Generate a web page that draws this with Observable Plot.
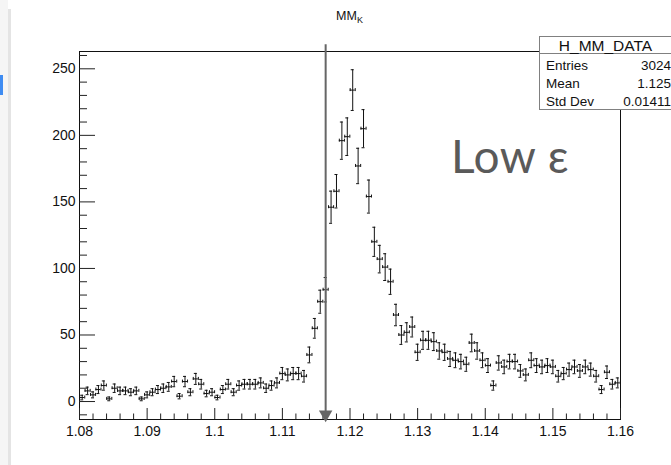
<!DOCTYPE html>
<html>
<head>
<meta charset="utf-8">
<script src="https://cdn.jsdelivr.net/npm/d3@7"></script>
<script src="https://cdn.jsdelivr.net/npm/@observablehq/plot@0.6"></script>
<style>
  html, body { margin: 0; padding: 0; background: #fff; overflow: hidden; }
  #wrap { position: relative; width: 671px; height: 465px; overflow: hidden; font-family: "Liberation Sans", Arial, Helvetica, sans-serif; }
  #chart { position: absolute; left: 0; top: 0; }
  .strip { position: absolute; left: 0; top: 0; width: 8px; height: 465px; background: #f5f5f5; }
  .stripline { position: absolute; left: 8px; top: 9px; width: 3px; height: 456px; background: #e4e4e4; }
  .blue { position: absolute; left: 0; top: 75px; width: 3px; height: 20px; background: #3f8cf2; }
  #title { position: absolute; left: 79px; width: 541px; top: 9px; text-align: center; font-size: 12.5px; color: #111; }
  #title sub { font-size: 9px; vertical-align: -3px; }
  #stats { position: absolute; left: 539px; top: 36px; width: 150px; height: 72px; border: 1px solid #808080; background: #fff; color: #111; }
  #stats .hdr { height: 16px; border-bottom: 1px solid #808080; font-size: 15.5px; line-height: 17px; width: 131px; text-align: center; }
  #stats .row { position: absolute; left: 6px; width: 125px; font-size: 13.5px; line-height: 18px; }
  #stats .row span { position: absolute; right: 0; }
  #lowe { position: absolute; left: 451px; top: 128px; font-family: Lato, "Open Sans", sans-serif; font-size: 46px; color: #5a5a5a; letter-spacing: 0.5px; }
</style>
</head>
<body>
<div id="wrap">
  <div class="strip"></div><div class="stripline"></div><div class="blue"></div>
  <div id="chart"></div>
  <div id="title">MM<sub>K</sub></div>
  <div id="stats">
    <div class="hdr">H_MM_DATA</div>
    <div class="row" style="top:20px">Entries<span>3024</span></div>
    <div class="row" style="top:38px">Mean<span>1.125</span></div>
    <div class="row" style="top:56px">Std Dev<span>0.01411</span></div>
  </div>
  <div id="lowe">Low ε</div>
</div>
<script>
// ---- data ----
const histName = "H_MM_DATA";
const xLow = 1.08;          // histogram lower edge
const binWidth = 0.0008;    // 100 bins from 1.08 to 1.16
const counts = [
  3, 8, 5, 9, 12, 2, 10, 8, 8, 7, 8, 2, 5, 7, 9, 10, 11,
  15, 4, 15, 7, 17, 13, 6, 7, 3, 9, 13, 7, 12, 13, 13, 13, 14,
  10, 12, 14, 21, 20, 21, 21, 19, 35, 55, 75, 84,
  146, 158, 196, 199, 234, 177, 205, 154, 120, 107, 101, 90,
  65, 50, 52, 56, 37, 46, 46, 45, 38, 37, 32, 31, 30, 28, 44, 38, 31, 27,
  12, 29, 26, 30, 30, 23, 20, 31, 27, 26, 27, 26, 19, 21, 24, 26, 23, 26, 24, 19, 9, 22, 13, 14
];
const arrowX = 1.1164;      // cut position marked by the arrow
const arrowTop = 268;

const xDomain = [1.08, 1.16];
const yDomain = [-13.5, 263];
const xTicks = [1.08, 1.09, 1.10, 1.11, 1.12, 1.13, 1.14, 1.15, 1.16];
const xTickLabels = ["1.08", "1.09", "1.1", "1.11", "1.12", "1.13", "1.14", "1.15", "1.16"];
const xMinorTicks = d3.range(0, 41).map(i => 1.08 + i * 0.002).filter((d, i) => i % 5 !== 0);
const yTicks = [0, 50, 100, 150, 200, 250];
const yTickLabels = ["0", "50", "100", "150", "200", "250"];
const yMinorTicks = d3.range(-10, 261, 10).filter(d => d % 50 !== 0);

// ---- layout ----
const W = 671, H = 465;
const mL = 79, mR = 51, mT = 51, mB = 46;
const pxX = (W - mL - mR) / (xDomain[1] - xDomain[0]);   // px per x unit
const pxY = (H - mT - mB) / (yDomain[1] - yDomain[0]);   // px per y unit

const bins = counts.map((c, i) => ({
  x: xLow + (i + 0.5) * binWidth,
  c,
  e: Math.sqrt(c)
}));

const ink = "#111";
const hw = binWidth * 0.47;
const capX = 1.5 / pxX;
const capY = 1.5 / pxY;

const chart = Plot.plot({
  width: W, height: H,
  marginLeft: mL, marginRight: mR, marginTop: mT, marginBottom: mB,
  x: { domain: xDomain },
  y: { domain: yDomain },
  style: { fontFamily: '"Liberation Sans", Arial, Helvetica, sans-serif', fontSize: "14px", color: "#111", background: "transparent", overflow: "visible" },
  marks: [
    Plot.frame({ stroke: "#111" }),
    // y ticks (inside, on the left)
    Plot.ruleY(yTicks, { y: d => d, x1: xDomain[0], x2: xDomain[0] + 16 / pxX, stroke: "#222" }),
    Plot.ruleY(yMinorTicks, { y: d => d, x1: xDomain[0], x2: xDomain[0] + 8 / pxX, stroke: "#222" }),
    // x ticks (inside, at bottom)
    Plot.ruleX(xTicks, { x: d => d, y1: yDomain[0], y2: yDomain[0] + 11 / pxY, stroke: "#222" }),
    Plot.ruleX(xMinorTicks, { x: d => d, y1: yDomain[0], y2: yDomain[0] + 5.5 / pxY, stroke: "#222" }),
    Plot.axisY({ ticks: yTicks, tickSize: 0, tickPadding: 4, tickFormat: d => yTickLabels[yTicks.indexOf(d)], label: null, fontSize: 14 }),
    Plot.axisX({ ticks: xTicks, tickSize: 0, tickPadding: 7, tickFormat: d => xTickLabels[xTicks.findIndex(t => Math.abs(t - d) < 1e-9)], label: null, fontSize: 14 }),
    // error bars
    Plot.ruleY(bins, { y: "c", x1: d => d.x - hw, x2: d => d.x + hw, stroke: ink }),
    Plot.ruleX(bins, { x: "x", y1: d => d.c - d.e, y2: d => d.c + d.e, stroke: ink }),
    Plot.ruleY(bins, { y: d => d.c + d.e, x1: d => d.x - capX, x2: d => d.x + capX, stroke: ink }),
    Plot.ruleY(bins, { y: d => d.c - d.e, x1: d => d.x - capX, x2: d => d.x + capX, stroke: ink }),
    Plot.ruleX(bins, { x: d => d.x - hw, y1: d => d.c - capY, y2: d => d.c + capY, stroke: ink }),
    Plot.ruleX(bins, { x: d => d.x + hw, y1: d => d.c - capY, y2: d => d.c + capY, stroke: ink }),
    // arrow
    Plot.ruleX([arrowX], { x: d => d, y1: arrowTop, y2: yDomain[0] + 8 / pxY, stroke: "#666", strokeWidth: 2 }),
    Plot.dot([arrowX], { x: d => d, y: yDomain[0], symbol: "triangle", rotate: 180, r: 5, fill: "#666", stroke: "none", dy: -5 })
  ]
});
document.getElementById("chart").appendChild(chart);
</script>
</body>
</html>
